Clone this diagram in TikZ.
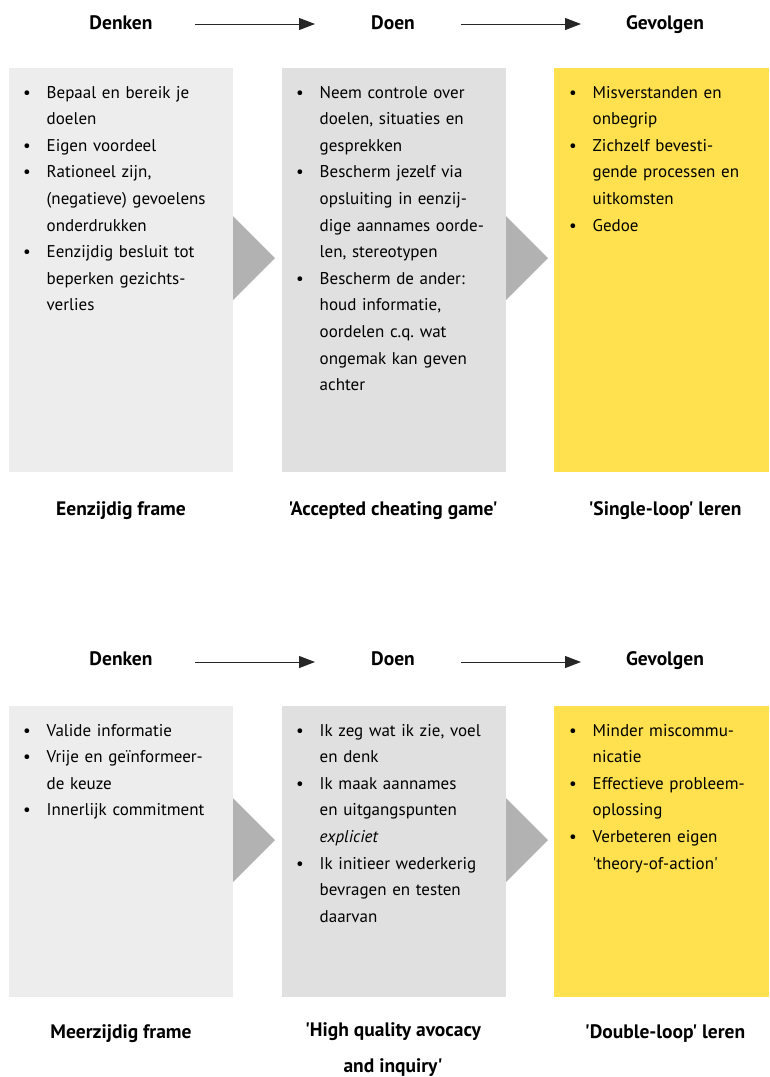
\documentclass[tikz,border=0pt]{standalone}
\usepackage{fontspec}
\setmainfont{PT Sans}[Ligatures=TeXOff]
\usetikzlibrary{arrows.meta}

\definecolor{thinkfill}{HTML}{EDEDED}
\definecolor{dofill}{HTML}{E0E0E0}
\definecolor{resultfill}{HTML}{FFE14F}
\definecolor{chevfill}{HTML}{B2B2B2}

% one bullet line, and a continuation line indented to the text
\newcommand\itemln[1]{\makebox[23.5pt][l]{\textbullet}#1}
\newcommand\contln[1]{\hspace*{23.5pt}#1}

\tikzset{
  panel/.style={anchor=north west, inner sep=0pt, outer sep=0pt,
    minimum width=224pt},
  listtext/.style={anchor=base west, inner sep=0pt, text width=215pt,
    align=left, font=\fontsize{17}{26.6}\selectfont},
  head/.style={font=\fontsize{19.5}{22}\selectfont\bfseries, inner sep=0pt,
    anchor=base},
  caption/.style={font=\fontsize{19.5}{36}\selectfont\bfseries, inner sep=0pt,
    align=center, anchor=base},
  flow/.style={draw=black!85, line width=1pt,
    -{Triangle[length=16pt,width=12pt]}},
  chevron/.style={fill=chevfill}
}

\begin{document}
\begin{tikzpicture}[x=1pt,y=-1pt]
\useasboundingbox (0,0) rectangle (769,1077);

% ---------- upper row: eenzijdig frame ----------
\node[head] (h1) at (121,29) {Denken};
\node[head] (h2) at (393,29) {Doen};
\node[head] (h3) at (665,29) {Gevolgen};
\coordinate (a1s) at (195,24);
\coordinate (a1e) at (315,24);
\coordinate (a2s) at (461,24);
\coordinate (a2e) at (581,24);
\draw[flow] (a1s) -- (a1e);
\draw[flow] (a2s) -- (a2e);

\node[panel, fill=thinkfill, minimum height=404pt] (p1) at (9,68) {};
\node[panel, fill=dofill, minimum height=404pt] (p2) at (282,68) {};
\node[panel, fill=resultfill, minimum height=404pt, minimum width=215pt] (p3) at (554,68) {};

\fill[chevron] (233,216) -- (275,258) -- (233,300) -- cycle;
\fill[chevron] (506,216) -- (548,258) -- (506,300) -- cycle;

\node[listtext] (t1) at (23,98) {%
  \itemln{Bepaal en bereik je}\\
  \contln{doelen}\\
  \itemln{Eigen voordeel}\\
  \itemln{Rationeel zijn,}\\
  \contln{(negatieve) gevoelens}\\
  \contln{onderdrukken}\\
  \itemln{Eenzijdig besluit tot}\\
  \contln{beperken gezichts-}\\
  \contln{verlies}};

\node[listtext] (t2) at (296,98) {%
  \itemln{Neem controle over}\\
  \contln{doelen, situaties en}\\
  \contln{gesprekken}\\
  \itemln{Bescherm jezelf via}\\
  \contln{opsluiting in eenzij-}\\
  \contln{dige aannames oorde-}\\
  \contln{len, stereotypen}\\
  \itemln{Bescherm de ander:}\\
  \contln{houd informatie,}\\
  \contln{oordelen c.q.\ wat}\\
  \contln{ongemak kan geven}\\
  \contln{achter}};

\node[listtext] (t3) at (569,98) {%
  \itemln{Misverstanden en}\\
  \contln{onbegrip}\\
  \itemln{Zichzelf bevesti-}\\
  \contln{gende processen en}\\
  \contln{uitkomsten}\\
  \itemln{Gedoe}};

\node[caption] (c1) at (121,515) {Eenzijdig frame};
\node[caption] (c2) at (393,515) {'Accepted cheating game'};
\node[caption] (c3) at (665,515) {'Single-loop' leren};

% ---------- lower row: meerzijdig frame ----------
\node[head] (h4) at (121,665) {Denken};
\node[head] (h5) at (393,665) {Doen};
\node[head] (h6) at (665,665) {Gevolgen};
\coordinate (a3s) at (195,662);
\coordinate (a3e) at (315,662);
\coordinate (a4s) at (461,662);
\coordinate (a4e) at (581,662);
\draw[flow] (a3s) -- (a3e);
\draw[flow] (a4s) -- (a4e);

\node[panel, fill=thinkfill, minimum height=291pt] (p4) at (9,706) {};
\node[panel, fill=dofill, minimum height=291pt] (p5) at (282,706) {};
\node[panel, fill=resultfill, minimum height=291pt, minimum width=215pt] (p6) at (554,706) {};

\fill[chevron] (233,798) -- (275,840) -- (233,882) -- cycle;
\fill[chevron] (506,798) -- (548,840) -- (506,882) -- cycle;

\node[listtext] (t4) at (23,736) {%
  \itemln{Valide informatie}\\
  \itemln{Vrije en geïnformeer-}\\
  \contln{de keuze}\\
  \itemln{Innerlijk commitment}};

\node[listtext] (t5) at (296,736) {%
  \itemln{Ik zeg wat ik zie, voel}\\
  \contln{en denk}\\
  \itemln{Ik maak aannames}\\
  \contln{en uitgangspunten}\\
  \contln{\textit{expliciet}}\\
  \itemln{Ik initieer wederkerig}\\
  \contln{bevragen en testen}\\
  \contln{daarvan}};

\node[listtext] (t6) at (569,736) {%
  \itemln{Minder miscommu-}\\
  \contln{nicatie}\\
  \itemln{Effectieve probleem-}\\
  \contln{oplossing}\\
  \itemln{Verbeteren eigen}\\
  \contln{'theory-of-action'}};

\node[caption] (c4) at (121,1038) {Meerzijdig frame};
\node[caption, anchor=center] (c5) at (393,1050)
  {'High quality avocacy\\[0pt]and inquiry'};
\node[caption] (c6) at (665,1038) {'Double-loop' leren};
\end{tikzpicture}
\end{document}
